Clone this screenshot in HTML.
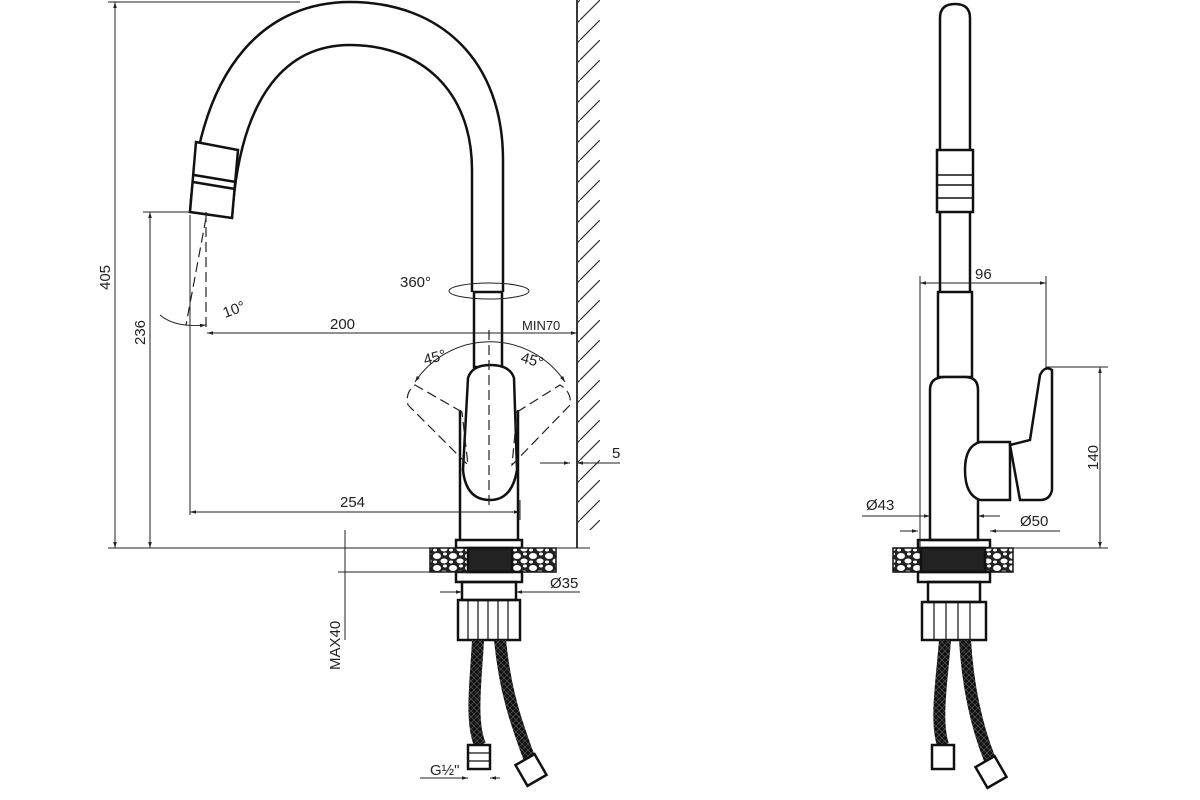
<!DOCTYPE html>
<html><head><meta charset="utf-8"><style>
html,body{margin:0;padding:0;background:#fff}
svg{display:block}
text{font-family:"Liberation Sans",sans-serif;font-size:15px;fill:#222}
</style></head><body>
<svg width="1200" height="800" viewBox="0 0 1200 800" xmlns="http://www.w3.org/2000/svg">
<defs>
<marker id="a" viewBox="0 0 10 10" refX="10" refY="5" markerWidth="8" markerHeight="6" orient="auto-start-reverse"><path d="M0,2 L10,5 L0,8z" fill="#222"/></marker>
<pattern id="hatch" width="20" height="20" patternUnits="userSpaceOnUse"><path d="M0,20 L20,0" stroke="#333" stroke-width="1.2"/></pattern>
<pattern id="stone" width="16" height="12" patternUnits="userSpaceOnUse"><rect width="16" height="12" fill="#222"/><ellipse cx="5" cy="4" rx="4" ry="3" fill="#fff"/><ellipse cx="12" cy="9" rx="3.5" ry="2.5" fill="#fff"/><ellipse cx="13" cy="2" rx="2" ry="1.5" fill="#fff"/><ellipse cx="3" cy="10" rx="2" ry="1.5" fill="#fff"/></pattern>
<pattern id="braid" width="6" height="6" patternUnits="userSpaceOnUse"><rect width="6" height="6" fill="#111"/><path d="M0,0 L6,6 M6,0 L0,6" stroke="#555" stroke-width="0.7"/></pattern>
</defs>
<g fill="none" stroke="#111" stroke-width="2.5">
<path d="M190,212 C200,60 270,2 350,2 C440,2 503,60 503,160 L503,292"/>
<path d="M232,218 C240,90 290,45 350,45 C420,45 472,90 472,170 L472,292"/>
<path d="M190,212 L196,142 L238,150 L232,218 Z" fill="#fff"/>
<path d="M193,182 L235,189 M194,175 L236,182" />
<rect x="474" y="292" width="28" height="75"/>
<path d="M460,410 L460,540 M518,410 L518,540"/>
<path d="M468,378 Q472,365 490,365 Q510,365 514,378 L517,470 Q512,500 490,500 Q466,500 463,470 Z" fill="#fff"/>
<rect x="456" y="540" width="66" height="8"/>
<rect x="430" y="548" width="40" height="24" fill="url(#stone)" stroke-width="1.5"/>
<rect x="512" y="548" width="44" height="24" fill="url(#stone)" stroke-width="1.5"/>
<rect x="468" y="548" width="44" height="24" fill="#222"/>
<rect x="456" y="572" width="66" height="10"/>
<rect x="462" y="582" width="54" height="18"/>
<rect x="458" y="600" width="62" height="40"/>
<path d="M468,600v40 M478,600v40 M488,600v40 M498,600v40 M508,600v40" stroke-width="1.2"/>
<path d="M478,640 C476,680 470,720 480,745" stroke="url(#braid)" stroke-width="12"/>
<path d="M500,640 C505,690 515,720 530,760" stroke="url(#braid)" stroke-width="12"/>
<rect x="468" y="745" width="22" height="24" fill="#fff"/>
<path d="M468,753h22 M468,761h22" stroke-width="1.2"/>
<rect x="520" y="758" width="22" height="24" fill="#fff" transform="rotate(-30 531 770)"/>
</g>
<g fill="none" stroke="#222" stroke-width="1.2" stroke-dasharray="10,5">
<path d="M462,412 L415,385 Q405,392 408,405 L468,465 Z"/>
<path d="M517,412 L560,385 Q572,392 570,405 L512,465 Z"/>
<path d="M489,330 V510"/>
<path d="M206,212 L206,330 M206,218 L186,325"/>
</g>
<g fill="none" stroke="#222" stroke-width="1">
<ellipse cx="489" cy="291" rx="40" ry="8"/>
<path d="M415,382 A90,90 0 0 1 565,382" marker-start="url(#a)" marker-end="url(#a)"/>
<path d="M577,0 V548" stroke-width="1.8"/>
<rect x="578" y="0" width="22" height="530" fill="url(#hatch)" stroke="none"/>
<path d="M115,2 V548" marker-start="url(#a)" marker-end="url(#a)"/>
<path d="M108,2 H300 M108,548 H456 M522,548 H590"/>
<path d="M150,212 V548" marker-start="url(#a)" marker-end="url(#a)"/>
<path d="M143,212 H190"/>
<path d="M190,215 V515"/>
<path d="M190,512 H520" marker-start="url(#a)" marker-end="url(#a)"/>
<path d="M520,500 V520"/>
<path d="M207,333 H577" marker-start="url(#a)" marker-end="url(#a)"/>
<path d="M540,463 H570" marker-end="url(#a)"/><path d="M620,463 H577" marker-end="url(#a)"/>
<path d="M160,315 Q175,328 206,325" marker-end="url(#a)"/>
<path d="M345,530 V640 M338,548 H345 M338,572 H470"/>
<path d="M440,592 H462" marker-end="url(#a)"/><path d="M580,592 H516" marker-end="url(#a)"/>
<path d="M420,778 H468" marker-end="url(#a)"/><path d="M500,778 H490" marker-end="url(#a)"/>
</g>
<g>
<text x="400" y="287">360°</text>
<text x="225" y="318" transform="rotate(-20 225 318)">10°</text>
<text x="330" y="329">200</text>
<text x="522" y="330" style="font-size:13px">MIN70</text>
<text x="425" y="365" transform="rotate(-15 425 365)">45°</text>
<text x="520" y="362" transform="rotate(15 520 362)">45°</text>
<text x="612" y="458">5</text>
<text x="340" y="507">254</text>
<text x="550" y="588">Ø35</text>
<text x="430" y="775">G½"</text>
<text transform="translate(110,290) rotate(-90)">405</text>
<text transform="translate(145,345) rotate(-90)">236</text>
<text transform="translate(340,670) rotate(-90)">MAX40</text>
</g>
<g fill="none" stroke="#111" stroke-width="2.5">
<path d="M940,292 V18 Q940,4 955,4 Q970,4 970,18 V292"/>
<rect x="937" y="150" width="36" height="62" fill="#fff"/>
<path d="M937,175 H973 M937,185 H973 M937,198 H973" stroke-width="1.5"/>
<rect x="938" y="292" width="34" height="85"/>
<path d="M930,390 Q930,377 945,377 L965,377 Q978,377 978,390 L978,540 L930,540 Z" fill="#fff"/>
<path d="M980,442 Q965,446 965,470 Q965,495 980,500 L1010,500 L1010,442 Z" fill="#fff"/>
<path d="M1010,445 L1030,440 L1040,375 Q1045,365 1052,370 L1052,490 Q1050,500 1040,500 L1020,500 Z" fill="#fff"/>
<rect x="918" y="540" width="72" height="8"/>
<rect x="893" y="548" width="28" height="24" fill="url(#stone)" stroke-width="1.5"/>
<rect x="985" y="548" width="28" height="24" fill="url(#stone)" stroke-width="1.5"/>
<rect x="921" y="548" width="64" height="24" fill="#222"/>
<rect x="918" y="572" width="72" height="10"/>
<rect x="928" y="582" width="52" height="20"/>
<rect x="922" y="602" width="64" height="38"/>
<path d="M934,602v38 M946,602v38 M958,602v38 M970,602v38" stroke-width="1.2"/>
<path d="M945,640 C942,680 935,720 943,745" stroke="url(#braid)" stroke-width="12"/>
<path d="M965,640 C968,690 978,730 990,760" stroke="url(#braid)" stroke-width="12"/>
<rect x="932" y="745" width="22" height="24" fill="#fff"/>
<rect x="980" y="760" width="22" height="24" fill="#fff" transform="rotate(-30 991 772)"/>
</g>
<g fill="none" stroke="#222" stroke-width="1">
<path d="M920,283 H1046" marker-start="url(#a)" marker-end="url(#a)"/>
<path d="M920,276 V548 M1046,276 V368"/>
<path d="M1100,367 V548" marker-start="url(#a)" marker-end="url(#a)"/>
<path d="M1046,367 H1108 M990,548 H1108"/>
<path d="M862,516 H930" marker-end="url(#a)"/><path d="M1000,516 H978" marker-end="url(#a)"/>
<path d="M900,531 H918" marker-end="url(#a)"/><path d="M1060,531 H990" marker-end="url(#a)"/>
</g>
<text x="975" y="279">96</text>
<text x="866" y="510">Ø43</text>
<text x="1020" y="526">Ø50</text>
<text transform="translate(1098,470) rotate(-90)">140</text>
</svg>
</body></html>
